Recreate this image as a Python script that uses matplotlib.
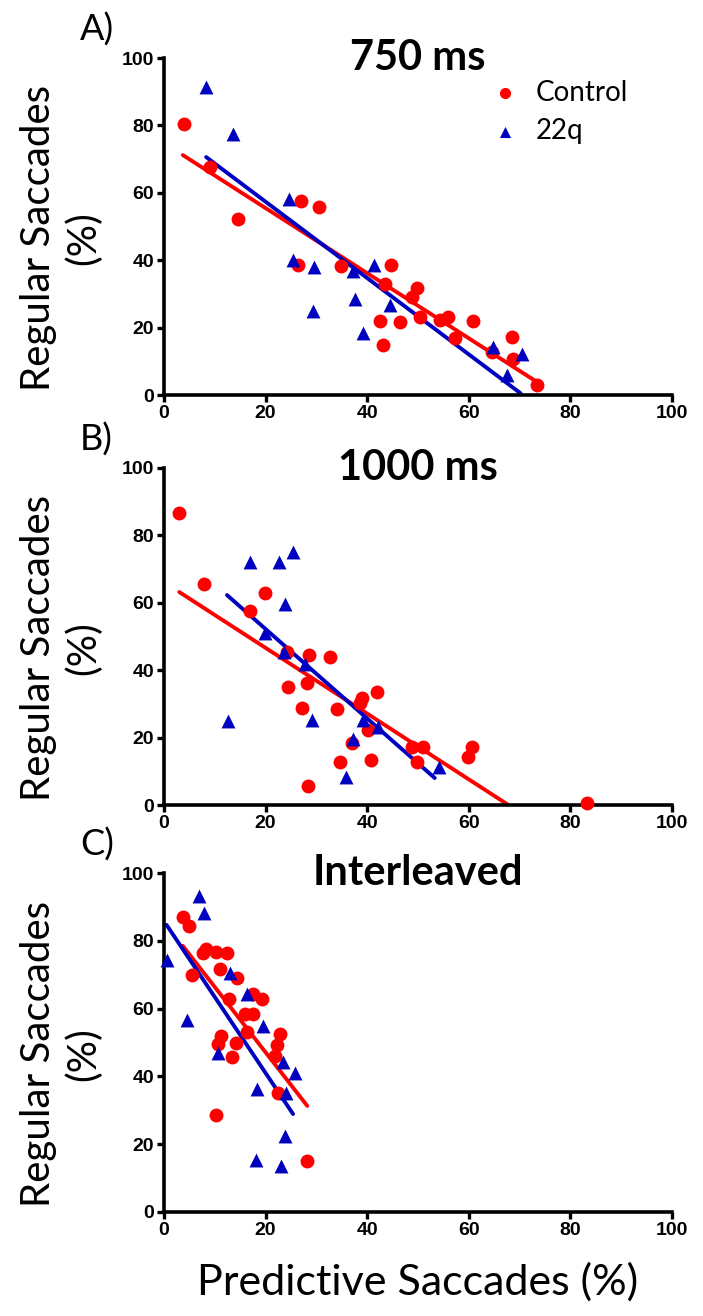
import numpy as np
import matplotlib
matplotlib.use("Agg")
import matplotlib.pyplot as plt

plt.rcParams["font.family"] = ["Lato", "DejaVu Sans"]

# ---- panel A: 750 ms
a_ctrl_x = [3.9, 9, 14.6, 27, 30.5, 26.4, 34.8, 44.7, 43.5, 42.5, 46.5, 43.1, 49.8, 48.8, 50.4,
            54.3, 55.9, 60.8, 57.3, 68.5, 64.6, 68.7, 73.4]
a_ctrl_y = [80.4, 67.7, 52.2, 57.6, 55.8, 38.6, 38.3, 38.6, 33, 22, 21.7, 14.8, 31.8, 29, 23,
            22.3, 23.1, 22, 16.9, 17.2, 12.8, 10.7, 3]
a_22q_x = [8.3, 13.6, 24.6, 25.4, 29.5, 29.3, 37.2, 37.6, 41.3, 39.2, 44.5, 64.8, 70.5, 67.5]
a_22q_y = [91.4, 77.5, 58.2, 40, 38, 24.9, 36.8, 28.5, 38.6, 18.4, 26.7, 14.2, 12.2, 5.9]
a_ctrl_fit = ([3.7, 73.8], [71.2, 3.5])
a_22q_fit = ([8.3, 70.2], [70.6, 0.5])

# ---- panel B: 1000 ms
b_ctrl_x = [2.9, 7.9, 19.9, 16.9, 24.2, 28.5, 32.7, 24.4, 28.1, 27.2, 34, 39, 38.6, 42,
            40.2, 37, 34.6, 40.7, 28.3, 48.8, 51, 49.8, 60.6, 59.8, 83.3]
b_ctrl_y = [86.6, 65.6, 62.9, 57.6, 45.4, 44.5, 43.9, 35, 36.2, 28.8, 28.5, 31.8, 30.3, 33.5,
            22.3, 18.4, 12.8, 13.4, 5.6, 17.2, 17.2, 12.8, 17.2, 14.2, 0.6]
b_22q_x = [16.9, 22.6, 25.4, 23.8, 19.9, 12.6, 29.1, 23.6, 27.8, 39.2, 42.1, 37.2, 35.8, 54.1]
b_22q_y = [72.1, 72.1, 75.1, 59.6, 51, 25, 25.2, 45.4, 41.8, 25.2, 23.1, 19.6, 8.3, 11.3]
b_ctrl_fit = ([3, 67.8], [63.2, 0])
b_22q_fit = ([12.4, 53.3], [62.3, 8])

# ---- panel C: interleaved
c_ctrl_x = [3.7, 4.9, 8.3, 7.7, 10.2, 12.4, 5.5, 11, 14.4, 12.8, 17.5, 19.3, 15.9, 17.5,
            22.8, 11.2, 10.7, 14.2, 13.3, 16.3, 22.2, 21.8, 22.4, 10.2, 28.2]
c_ctrl_y = [87, 84.4, 77.6, 76.4, 76.7, 76.4, 69.9, 71.7, 69, 62.8, 64.3, 62.8, 58.4, 58.4,
            52.5, 52, 49.6, 50, 45.6, 53, 49.3, 46, 35.1, 28.6, 15]
c_22q_x = [6.9, 7.9, 0.5, 4.5, 13, 16.3, 19.5, 10.6, 23.4, 25.8, 18.3, 24, 23.8, 18.1, 23]
c_22q_y = [93.2, 88.2, 74.3, 56.6, 70.5, 64.3, 54.9, 46.9, 44.2, 41, 36.3, 35.1, 22.4, 15.3, 13.6]
c_ctrl_fit = ([3.7, 28.2], [78.5, 31.3])
c_22q_fit = ([0.5, 25.4], [84.7, 28.9])

panels = [
    ("A)", "750 ms", a_ctrl_x, a_ctrl_y, a_22q_x, a_22q_y, a_ctrl_fit, a_22q_fit),
    ("B)", "1000 ms", b_ctrl_x, b_ctrl_y, b_22q_x, b_22q_y, b_ctrl_fit, b_22q_fit),
    ("C)", "Interleaved", c_ctrl_x, c_ctrl_y, c_22q_x, c_22q_y, c_ctrl_fit, c_22q_fit),
]

W, H = 703, 1316
fig = plt.figure(figsize=(W / 100, H / 100), dpi=100)

# axes boxes in pixels: (left, top, right, bottom)
boxes = [(164, 58, 672, 395), (164, 468, 672, 805), (164, 873, 672, 1212)]

RED = "#ff0000"
BLUE = "#0000c0"

for (letter, title, cx, cy, bx, by, cfit, bfit), (l, t, r, b) in zip(panels, boxes):
    ax = fig.add_axes([l / W, 1 - b / H, (r - l) / W, (b - t) / H])
    ax.plot(cfit[0], cfit[1], color=RED, lw=2.8, solid_capstyle="round", zorder=2)
    ax.plot(bfit[0], bfit[1], color=BLUE, lw=2.8, solid_capstyle="round", zorder=2)
    ax.scatter(cx, cy, s=100, marker="o", color=RED, linewidths=0, zorder=3,
               clip_on=False, label="Control")
    ax.scatter(bx, by, s=100, marker="^", color=BLUE, linewidths=0, zorder=3,
               clip_on=False, label="22q")
    ax.set_xlim(0, 100)
    ax.set_ylim(0, 100)
    ax.set_xticks(range(0, 101, 20))
    ax.set_yticks(range(0, 101, 20))
    for s in ["top", "right"]:
        ax.spines[s].set_visible(False)
    for s in ["left", "bottom"]:
        ax.spines[s].set_linewidth(2.6)
    ax.tick_params(width=2.4, length=5, labelsize=14, pad=2)
    for lab in ax.get_xticklabels() + ax.get_yticklabels():
        lab.set_fontweight("bold")
        lab.set_family(["Liberation Sans", "DejaVu Sans"])
    ax.text(0.5, 1.0, title, transform=ax.transAxes, fontsize=30, fontweight="bold",
            ha="center", va="center")
    ax.set_ylabel("Regular Saccades\n(%)", fontsize=29, linespacing=1.25)
    ax.yaxis.set_label_coords(-0.122, 0.465)
    fig.text(80 / W, 1 - (t - 28) / H, letter, fontsize=26, ha="left", va="center")
    if letter == "A)":
        ax.legend(loc="upper left", bbox_to_anchor=(0.59, 1.01), frameon=False,
                  fontsize=20, handletextpad=0.5, labelspacing=0.45, markerscale=0.8,
                  scatterpoints=1, handlelength=1.2)

fig.text(418 / W, 1 - 1282 / H, "Predictive Saccades (%)", fontsize=31, ha="center", va="center")

fig.savefig("out.png", dpi=100)
